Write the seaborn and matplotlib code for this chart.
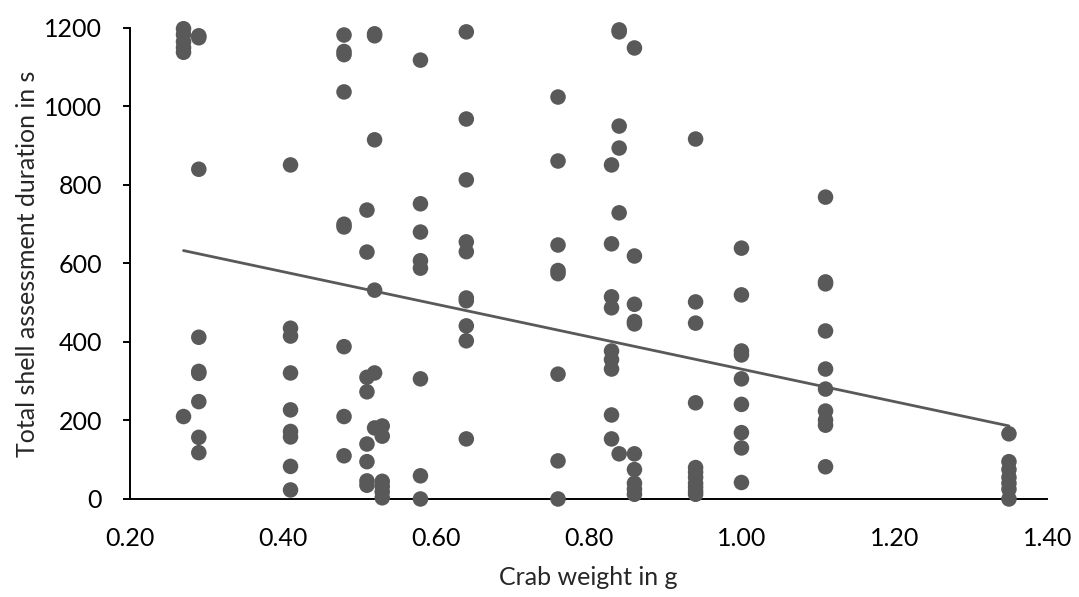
import matplotlib
matplotlib.use("Agg")
import matplotlib.pyplot as plt
import numpy as np
import pandas as pd
import seaborn as sns

# crab weight (g) -> total shell assessment durations (s)
w027 = [1198, 1183, 1165, 1150, 1138, 210]
w029 = [1180, 1175, 840, 412, 325, 320, 248, 157, 118]
w041 = [851, 435, 415, 321, 227, 172, 158, 83, 23]
w048 = [1182, 1140, 1132, 1037, 700, 693, 388, 210, 110]
w051 = [736, 629, 310, 273, 140, 95, 46, 35]
w052 = [1185, 1180, 915, 532, 321, 181]
w053 = [186, 160, 45, 32, 18, 3]
w058 = [1118, 752, 680, 607, 588, 306, 59, 0]
w064 = [1190, 968, 813, 655, 630, 512, 505, 441, 403, 153]
w076 = [1024, 861, 647, 582, 574, 318, 97, 0]
w083 = [851, 650, 515, 487, 377, 355, 331, 214, 153]
w084 = [1195, 1190, 950, 894, 729, 115]
w086 = [1149, 619, 496, 452, 446, 115, 75, 40, 25, 12]
w094 = [917, 502, 448, 245, 80, 68, 55, 40, 30, 20, 12]
w100 = [639, 520, 377, 367, 306, 241, 169, 130, 42]
w111 = [769, 553, 548, 428, 331, 280, 224, 201, 188, 82]
w135 = [166, 95, 75, 55, 40, 25, 0]

weights = [0.27, 0.29, 0.41, 0.48, 0.51, 0.52, 0.53, 0.58, 0.64,
           0.76, 0.83, 0.84, 0.86, 0.94, 1.00, 1.11, 1.35]
durations = [w027, w029, w041, w048, w051, w052, w053, w058, w064,
             w076, w083, w084, w086, w094, w100, w111, w135]

rows = [(w, d) for w, ds in zip(weights, durations) for d in ds]
df = pd.DataFrame(rows, columns=["weight", "duration"])

sns.set_style("white")
plt.rcParams["font.family"] = ["Lato", "DejaVu Sans"]

grey = "#595959"
fig = plt.figure(figsize=(10.79, 5.97), dpi=100)
ax = fig.add_axes([0.1205, 0.1642, 0.850, 0.789])

sns.scatterplot(data=df, x="weight", y="duration", ax=ax, color=grey,
                s=125, edgecolor="none", alpha=1, zorder=3, clip_on=False)
sns.regplot(data=df, x="weight", y="duration", ax=ax, scatter=False,
            ci=None, truncate=True, line_kws={"color": grey, "lw": 2})

ax.set_xlim(0.2, 1.4)
ax.set_ylim(0, 1200)
ax.set_xticks(np.arange(0.2, 1.41, 0.2))
ax.set_xticklabels([f"{v:.2f}" for v in np.arange(0.2, 1.41, 0.2)])
ax.set_yticks(range(0, 1201, 200))

for s in ["top", "right"]:
    ax.spines[s].set_visible(False)
for s in ["left", "bottom"]:
    ax.spines[s].set_color("black")
    ax.spines[s].set_linewidth(1.4)

ax.tick_params(axis="x", length=0, pad=20, labelsize=18, colors="black")
ax.tick_params(axis="y", length=5, width=1.4, pad=15, labelsize=18,
               colors="black", direction="out", left=True)

ax.set_xlabel("Crab weight in g", fontsize=18, labelpad=12)
ax.set_ylabel("Total shell assessment duration in s", fontsize=18, labelpad=4)

fig.savefig("out.png", dpi=100)
